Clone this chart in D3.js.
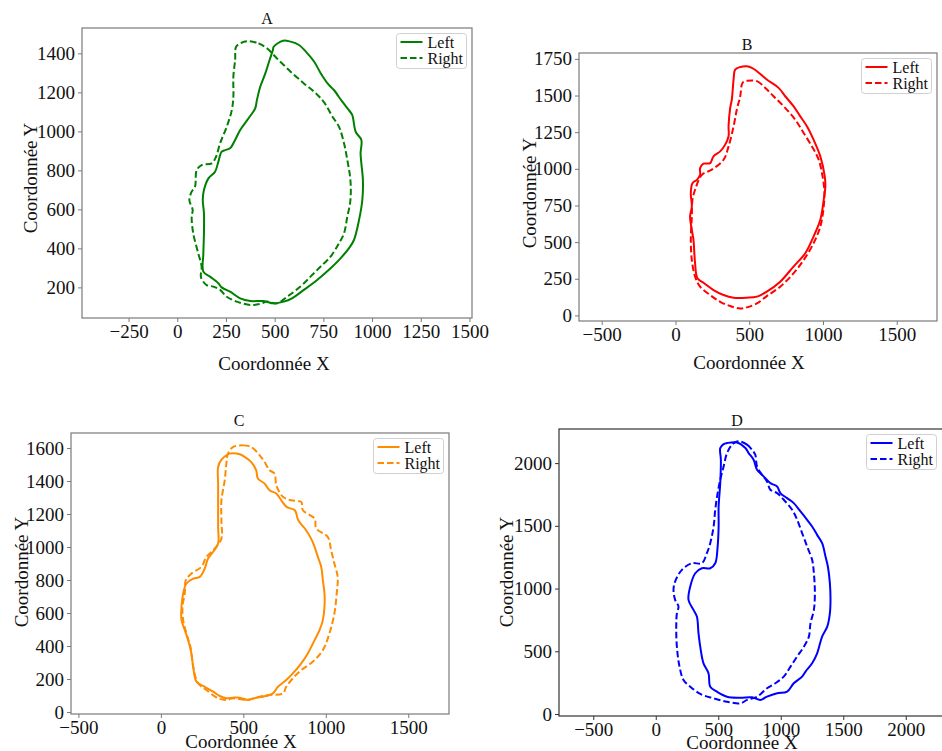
<!DOCTYPE html>
<html>
<head>
<meta charset="utf-8">
<script src="https://cdn.jsdelivr.net/npm/d3@7"></script>
<style>
html,body{margin:0;padding:0;background:#fff;}
svg{display:block;}
</style>
</head>
<body>
<svg id="chart" width="942" height="751"></svg>
<script>
// ---------------- DATA ----------------
const panelTitles = ["A", "B", "C", "D"];
const seriesNames = ["Left", "Right"];
const panelColors = ["#008000", "#ff0000", "#ff8c00", "#0000ff"];

const xTicksA = [-250, 0, 250, 500, 750, 1000, 1250, 1500];
const yTicksA = [200, 400, 600, 800, 1000, 1200, 1400];
const xTicksB = [-500, 0, 500, 1000, 1500];
const yTicksB = [0, 250, 500, 750, 1000, 1250, 1500, 1750];
const xTicksC = [-500, 0, 500, 1000, 1500];
const yTicksC = [0, 200, 400, 600, 800, 1000, 1200, 1400, 1600];
const xTicksD = [-500, 0, 500, 1000, 1500, 2000];
const yTicksD = [0, 500, 1000, 1500, 2000];

const xDomainA = [-489, 1513], yDomainA = [43, 1530];
const xDomainB = [-654, 1773], yDomainB = [-38, 1790];
const xDomainC = [-545, 1747], yDomainC = [-12, 1691];
const xDomainD = [-774, 2314], yDomainD = [-16, 2272];

const leftA = [[543,1465],[582,1460],[625,1443],[660,1409],[703,1357],[737,1297],[778,1238],[804,1212],[847,1152],[881,1109],[898,1084],[916,998],[945,956],[941,887],[945,836],[953,751],[950,648],[933,545],[907,443],[881,400],[838,349],[787,298],[718,238],[650,187],[589,144],[547,127],[495,118],[443,130],[375,130],[323,144],[271,178],[228,200],[211,221],[168,255],[134,281],[134,374],[137,477],[137,580],[131,648],[137,699],[160,759],[194,793],[211,845],[228,896],[246,904],[271,913],[297,956],[323,1007],[366,1067],[400,1118],[409,1161],[426,1229],[452,1297],[474,1366],[491,1417],[495,1434]];
const rightA = [[357,1462],[417,1451],[460,1426],[512,1374],[582,1306],[650,1246],[703,1203],[737,1169],[763,1135],[797,1075],[830,1024],[856,939],[873,853],[887,768],[891,699],[887,631],[873,563],[856,477],[830,426],[787,358],[735,306],[684,255],[632,204],[564,152],[512,118],[460,127],[426,115],[375,110],[306,127],[254,152],[220,187],[185,204],[151,212],[122,251],[125,306],[108,374],[82,477],[74,563],[79,597],[62,648],[74,691],[91,716],[100,802],[125,827],[177,836],[199,870],[220,939],[254,1024],[280,1109],[288,1178],[288,1280],[297,1366],[302,1434],[323,1451]];

const leftB = [[484,1700],[518,1689],[552,1666],[619,1609],[699,1552],[744,1495],[800,1427],[846,1358],[891,1290],[936,1199],[982,1085],[1012,948],[1016,880],[1005,788],[982,652],[936,538],[880,424],[800,333],[710,230],[619,162],[552,128],[484,121],[394,121],[326,139],[258,173],[190,223],[149,253],[133,355],[122,515],[111,583],[99,675],[111,743],[104,834],[115,902],[145,925],[167,959],[167,1005],[190,1035],[235,1039],[258,1085],[303,1119],[337,1165],[360,1222],[360,1290],[371,1415],[382,1472],[394,1609],[405,1677],[440,1695]];
const rightB = [[484,1600],[552,1598],[609,1552],[665,1495],[733,1427],[812,1335],[869,1244],[925,1153],[971,1062],[993,971],[1009,857],[1005,743],[982,606],[936,492],[869,378],[800,287],[710,196],[619,132],[552,82],[484,55],[439,48],[371,64],[303,93],[235,139],[167,196],[133,264],[111,378],[104,515],[111,675],[115,789],[133,857],[179,959],[246,994],[326,1062],[360,1153],[394,1290],[416,1404],[439,1495],[450,1575],[461,1594]];

const leftC = [[417,1566],[478,1562],[508,1546],[548,1515],[578,1465],[588,1415],[629,1384],[659,1344],[700,1324],[730,1283],[762,1243],[812,1223],[833,1162],[873,1112],[911,1051],[932,1001],[952,940],[972,880],[982,799],[992,718],[992,638],[982,557],[962,496],[932,436],[891,355],[851,295],[800,234],[760,194],[710,153],[679,113],[619,93],[579,87],[528,73],[478,87],[437,87],[397,83],[357,97],[317,123],[266,153],[216,184],[196,274],[185,355],[165,436],[145,496],[125,557],[125,638],[135,718],[155,779],[196,809],[236,819],[266,870],[286,930],[317,971],[347,1021],[347,1122],[347,1243],[347,1384],[347,1485],[367,1530],[407,1562]];
const rightC = [[437,1606],[498,1616],[548,1606],[599,1556],[629,1515],[659,1465],[689,1445],[700,1374],[740,1304],[790,1283],[851,1273],[861,1223],[932,1172],[942,1112],[1012,1061],[1032,981],[1052,900],[1072,819],[1066,718],[1052,597],[1022,476],[982,375],[921,305],[851,254],[800,204],[760,153],[740,113],[659,103],[599,93],[518,73],[437,83],[397,73],[347,83],[276,133],[226,174],[196,274],[179,396],[155,476],[135,557],[131,638],[145,718],[151,799],[185,839],[246,880],[276,940],[327,991],[367,1051],[367,1162],[367,1283],[387,1404],[397,1505],[407,1566]];

const leftD = [[570,2160],[650,2165],[717,2120],[743,2080],[783,2027],[810,1947],[863,1894],[917,1841],[971,1814],[997,1761],[1051,1721],[1104,1681],[1158,1615],[1211,1548],[1251,1495],[1291,1428],[1331,1362],[1358,1256],[1377,1176],[1393,1043],[1398,910],[1393,803],[1372,697],[1331,617],[1291,484],[1251,404],[1198,338],[1171,298],[1104,245],[1051,178],[971,165],[890,138],[837,112],[770,133],[677,130],[570,138],[489,178],[436,218],[422,325],[382,404],[356,537],[342,644],[329,777],[302,830],[262,910],[276,1016],[316,1122],[369,1162],[436,1162],[476,1202],[495,1335],[503,1495],[503,1654],[516,1841],[521,2027],[516,2120],[543,2152]];
const rightD = [[677,2173],[730,2147],[770,2107],[796,2067],[810,1974],[850,1907],[890,1854],[917,1788],[971,1761],[1024,1708],[1091,1628],[1131,1548],[1171,1442],[1211,1335],[1251,1229],[1265,1123],[1273,963],[1265,830],[1238,724],[1225,617],[1185,537],[1131,458],[1078,378],[1024,298],[957,245],[890,205],[810,138],[730,112],[677,85],[570,98],[463,125],[356,160],[276,218],[222,271],[190,378],[169,537],[164,697],[169,803],[182,856],[155,910],[142,990],[155,1056],[209,1149],[289,1202],[369,1202],[409,1282],[436,1362],[463,1495],[476,1628],[495,1761],[516,1867],[543,1974],[570,2080],[610,2147],[650,2173]];

// ---------------- LAYOUT ----------------
const FONT = "'Liberation Serif', 'Times New Roman', serif";
const panels = [
  {title: panelTitles[0], color: panelColors[0], left: leftA, right: rightA, xd: xDomainA, yd: yDomainA, xt: xTicksA, yt: yTicksA,
   box: {l: 82, t: 28, r: 472, b: 318}, titlePos: [267, 24], xlab: [274, 370], ylab: [37, 178], spine: "#7a7a7a"},
  {title: panelTitles[1], color: panelColors[1], left: leftB, right: rightB, xd: xDomainB, yd: yDomainB, xt: xTicksB, yt: yTicksB,
   box: {l: 579, t: 53, r: 937, b: 321}, titlePos: [747, 50], xlab: [749, 369], ylab: [536, 193], spine: "#7a7a7a"},
  {title: panelTitles[2], color: panelColors[2], left: leftC, right: rightC, xd: xDomainC, yd: yDomainC, xt: xTicksC, yt: yTicksC,
   box: {l: 71, t: 433, r: 449, b: 714}, titlePos: [239, 426], xlab: [241, 748], ylab: [28, 572], spine: "#7a7a7a"},
  {title: panelTitles[3], color: panelColors[3], left: leftD, right: rightD, xd: xDomainD, yd: yDomainD, xt: xTicksD, yt: yTicksD,
   box: {l: 559, t: 429, r: 945, b: 716}, titlePos: [737, 426], xlab: [742, 749], ylab: [513, 572], spine: "#333"}
];

const svg = d3.select("#chart");
const fmt = d3.format("");

panels.forEach((p, i) => {
  const b = p.box;
  const x = d3.scaleLinear().domain(p.xd).range([b.l, b.r]);
  const y = d3.scaleLinear().domain(p.yd).range([b.b, b.t]);
  const g = svg.append("g");

  const clipId = "clip" + i;
  g.append("clipPath").attr("id", clipId).append("rect")
    .attr("x", b.l).attr("y", b.t).attr("width", b.r - b.l).attr("height", b.b - b.t);

  // axes
  const xa = g.append("g").attr("transform", `translate(0,${b.b})`)
    .call(d3.axisBottom(x).tickValues(p.xt).tickFormat(fmt).tickSize(4).tickPadding(3).tickSizeOuter(0));
  const ya = g.append("g").attr("transform", `translate(${b.l},0)`)
    .call(d3.axisLeft(y).tickValues(p.yt).tickFormat(fmt).tickSize(4).tickPadding(3).tickSizeOuter(0));
  [xa, ya].forEach(a => {
    a.select(".domain").remove();
    a.selectAll(".tick line").attr("stroke", p.spine).attr("stroke-width", 1);
    a.selectAll(".tick text").attr("fill", "#111").style("font-family", FONT).style("font-size", "19px");
  });

  // data
  const line = d3.line().x(d => x(d[0])).y(d => y(d[1])).curve(d3.curveCatmullRomClosed.alpha(0.5));
  const dg = g.append("g").attr("clip-path", `url(#${clipId})`);
  dg.append("path").datum(p.left).attr("d", line)
    .attr("fill", "none").attr("stroke", p.color).attr("stroke-width", 2).attr("stroke-linejoin", "round");
  dg.append("path").datum(p.right).attr("d", line)
    .attr("fill", "none").attr("stroke", p.color).attr("stroke-width", 2).attr("stroke-dasharray", "6.5,3");

  // frame
  g.append("rect").attr("x", b.l).attr("y", b.t).attr("width", b.r - b.l).attr("height", b.b - b.t)
    .attr("fill", "none").attr("stroke", p.spine).attr("stroke-width", 1.2);

  // title & labels
  g.append("text").attr("x", p.titlePos[0]).attr("y", p.titlePos[1]).attr("text-anchor", "middle")
    .style("font-family", FONT).style("font-size", "16px").attr("fill", "#111").text(p.title);
  g.append("text").attr("x", p.xlab[0]).attr("y", p.xlab[1]).attr("text-anchor", "middle")
    .style("font-family", FONT).style("font-size", "19px").attr("fill", "#111").text("Coordonnée X");
  g.append("text").attr("transform", `translate(${p.ylab[0]},${p.ylab[1]}) rotate(-90)`).attr("text-anchor", "middle")
    .style("font-family", FONT).style("font-size", "19px").attr("fill", "#111").text("Coordonnée Y");

  // legend
  const lw = 70, lh = 35;
  const lx = Math.min(b.r, 942) - 5.5 - lw, ly = b.t + 5.5;
  const lg = g.append("g").attr("transform", `translate(${lx},${ly})`);
  lg.append("rect").attr("width", lw).attr("height", lh).attr("rx", 3)
    .attr("fill", "#fff").attr("fill-opacity", 0.8).attr("stroke", "#d0d0d0").attr("stroke-width", 1);
  seriesNames.forEach((name, k) => {
    const yy = 8.5 + k * 16;
    lg.append("line").attr("x1", 4).attr("x2", 26).attr("y1", yy).attr("y2", yy)
      .attr("stroke", p.color).attr("stroke-width", 2).attr("stroke-dasharray", k === 1 ? "6.5,3" : null);
    lg.append("text").attr("x", 31).attr("y", yy + 5.5)
      .style("font-family", FONT).style("font-size", "16px").attr("fill", "#111").text(name);
  });
});
</script>
</body>
</html>
